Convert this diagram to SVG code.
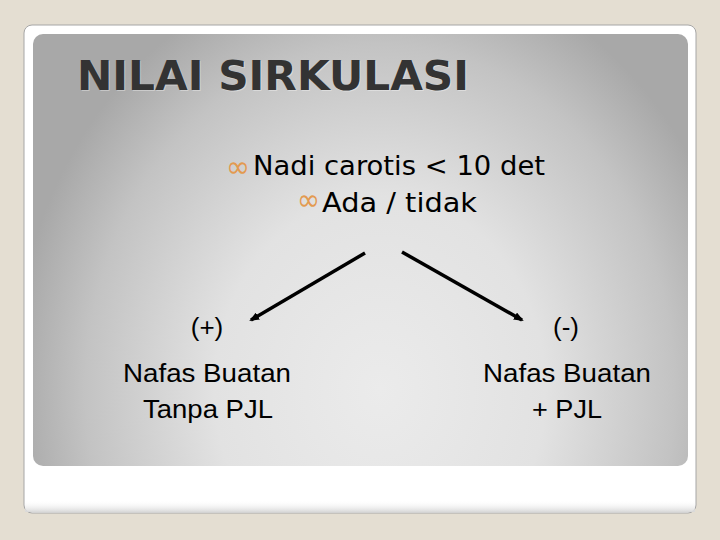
<svg xmlns="http://www.w3.org/2000/svg" width="720" height="540" viewBox="0 0 720 540">
  <defs>
    <radialGradient id="panelGrad" gradientUnits="userSpaceOnUse" cx="380" cy="390" r="400" gradientTransform="translate(380 390) scale(0.92 1.08) translate(-380 -390)">
      <stop offset="0" stop-color="#ebebeb"/>
      <stop offset="0.45" stop-color="#e2e2e2"/>
      <stop offset="0.8" stop-color="#c3c3c3"/>
      <stop offset="1" stop-color="#a8a8a8"/>
    </radialGradient>
    <linearGradient id="cardShade" x1="0" y1="0" x2="0" y2="1">
      <stop offset="0" stop-color="#ffffff" stop-opacity="0"/>
      <stop offset="1" stop-color="#d8d8d8" stop-opacity="1"/>
    </linearGradient>
    <marker id="arrow" markerWidth="10" markerHeight="8" refX="8" refY="4" orient="auto" markerUnits="userSpaceOnUse">
      <path d="M0,0 L10,4 L0,8 Z" fill="#000"/>
    </marker>
    <style>
      .title { font-family: "DejaVu Sans", Verdana, sans-serif; font-weight: bold; font-size: 40px; fill: #333333; }
      .titleShadow { font-family: "DejaVu Sans", Verdana, sans-serif; font-weight: bold; font-size: 40px; fill: #ffffff; opacity: 0.35; }
      .bullet { font-family: "DejaVu Sans", Verdana, sans-serif; font-size: 26px; fill: #000000; }
      .mark { font-family: "DejaVu Sans", sans-serif; font-size: 30px; fill: #e39a50; }
      .label { font-family: "Liberation Sans", Arial, sans-serif; font-size: 26px; fill: #000000; text-anchor: middle; }
      .conn { stroke: #000; stroke-width: 3.5; fill: none; }
    </style>
  </defs>

  <rect x="0" y="0" width="720" height="540" fill="#e4ded2"/>

  <g id="card">
    <rect x="24" y="25" width="672" height="488" rx="8" fill="#ffffff" stroke="#a6a6a6" stroke-width="1"/>
    <rect x="25" y="500" width="670" height="12" fill="url(#cardShade)"/>
    <rect x="33" y="34" width="655" height="432" rx="10" fill="url(#panelGrad)"/>
  </g>

  <g id="title">
    <text class="titleShadow" x="78" y="91" textLength="392" lengthAdjust="spacingAndGlyphs">NILAI SIRKULASI</text>
    <text class="title" x="77" y="90" textLength="392" lengthAdjust="spacingAndGlyphs">NILAI SIRKULASI</text>
  </g>

  <g id="bullet1">
    <text class="mark" x="226" y="177" textLength="24" lengthAdjust="spacingAndGlyphs">∞</text>
    <text class="bullet" x="253" y="175" textLength="292" lengthAdjust="spacingAndGlyphs">Nadi carotis &lt; 10 det</text>
  </g>

  <g id="bullet2">
    <text class="mark" x="297" y="210" textLength="23" lengthAdjust="spacingAndGlyphs">∞</text>
    <text class="bullet" x="322" y="212" textLength="155" lengthAdjust="spacingAndGlyphs">Ada / tidak</text>
  </g>

  <g id="connectors">
    <line class="conn" x1="365" y1="253" x2="251" y2="320" marker-end="url(#arrow)"/>
    <line class="conn" x1="402" y1="252" x2="522" y2="320" marker-end="url(#arrow)"/>
  </g>

  <g id="left">
    <text class="label" x="207" y="336">(+)</text>
    <text class="label" x="207" y="382" textLength="168" lengthAdjust="spacingAndGlyphs">Nafas Buatan</text>
    <text class="label" x="208" y="418" textLength="130" lengthAdjust="spacingAndGlyphs">Tanpa PJL</text>
  </g>

  <g id="right">
    <text class="label" x="566" y="336">(-)</text>
    <text class="label" x="567" y="382" textLength="168" lengthAdjust="spacingAndGlyphs">Nafas Buatan</text>
    <text class="label" x="567" y="418" textLength="70" lengthAdjust="spacingAndGlyphs">+ PJL</text>
  </g>
</svg>
